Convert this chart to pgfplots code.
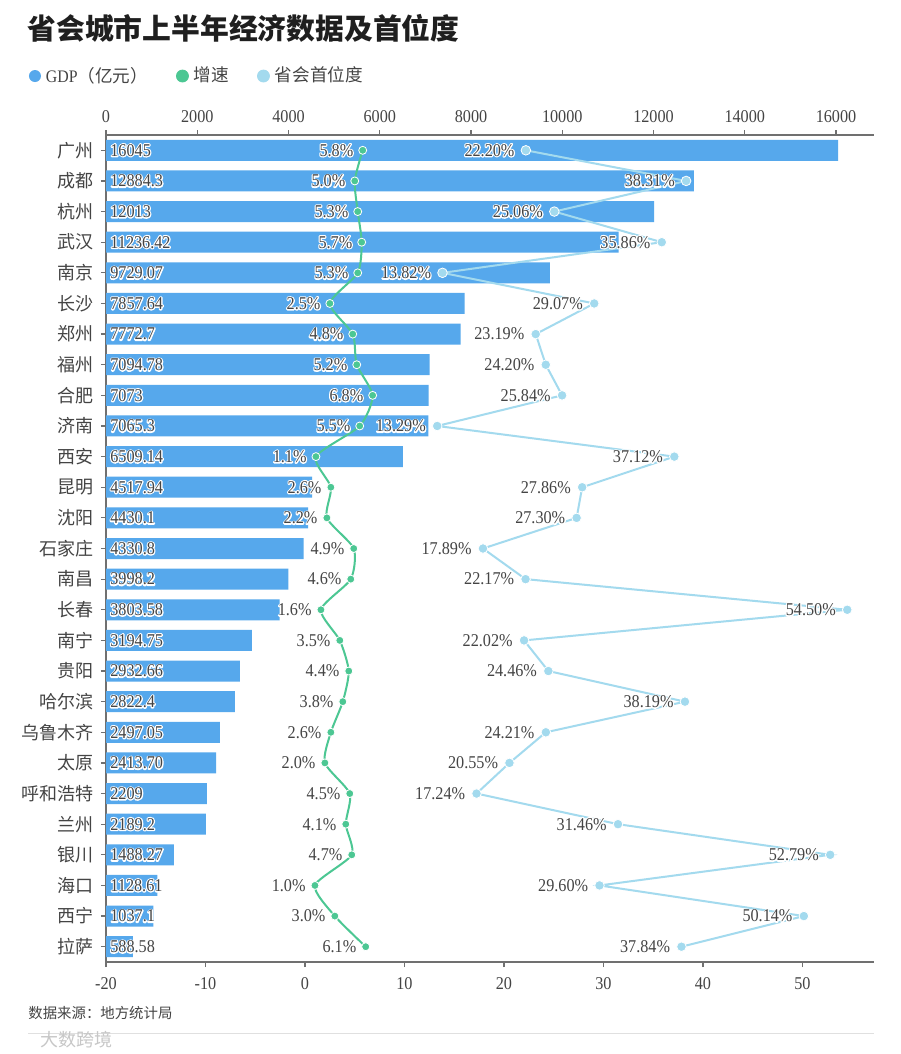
\documentclass[border=0pt]{standalone}
\usepackage{pgfplots}
\pgfplotsset{compat=1.18}
\usepackage{pgfplotstable}
\usepackage{fontspec}
\setmainfont{Liberation Serif}[FakeStretch=0.9]
\newfontfamily\cjk{Noto Sans CJK SC}
\definecolor{barblue}{HTML}{56A8EC}
\definecolor{grn}{HTML}{4CC793}
\definecolor{lblue}{HTML}{A3DAEE}
\definecolor{txt}{HTML}{444444}
\definecolor{axgray}{HTML}{707070}

\pgfplotstableread{
idx gdp growth prim
26 16045 5.8 22.20
25 12884.3 5.0 38.31
24 12013 5.3 25.06
23 11236.42 5.7 35.86
22 9729.07 5.3 13.82
21 7857.64 2.5 29.07
20 7772.7 4.8 23.19
19 7094.78 5.2 24.20
18 7073 6.8 25.84
17 7065.3 5.5 13.29
16 6509.14 1.1 37.12
15 4517.94 2.6 27.86
14 4430.1 2.2 27.30
13 4330.8 4.9 17.89
12 3998.2 4.6 22.17
11 3803.58 1.6 54.50
10 3194.75 3.5 22.02
9 2932.66 4.4 24.46
8 2822.4 3.8 38.19
7 2497.05 2.6 24.21
6 2413.70 2.0 20.55
5 2209 4.5 17.24
4 2189.2 4.1 31.46
3 1488.27 4.7 52.79
2 1128.61 1.0 29.60
1 1037.1 3.0 50.14
0 588.58 6.1 37.84
}\data

\newcommand\numf{\fontsize{9}{10}\selectfont}
% white halo behind label text
\newcommand\halo[1]{\leavevmode\rlap{\color{white}\special{pdf:literal 2 Tr 1 j 1.2 w 1 G}#1\special{pdf:literal 0 Tr}}#1}

\begin{document}
\begin{tikzpicture}
\path[fill=white] (0,0) rectangle (450pt,-527pt);
\node[anchor=west, inner sep=0pt, text=black!88] at (13.5pt,-14.3pt) {\cjk\bfseries\fontsize{14.4}{15}\selectfont 省会城市上半年经济数据及首位度};

\begin{axis}[
  at={(53pt,-481pt)}, anchor=south west,
  scale only axis, width=384pt, height=413.5pt,
  xmin=0, xmax=16833, ymin=-0.5, ymax=26.5,
  axis x line*=top, axis y line*=left,
  axis line style={-, axgray, line width=0.6pt},
  xtick={0,2000,...,16000},
  scaled x ticks=false,
  ytick={0,...,26},
  yticklabels={拉萨,西宁,海口,银川,兰州,呼和浩特,太原,乌鲁木齐,哈尔滨,贵阳,南宁,长春,南昌,石家庄,沈阳,昆明,西安,济南,合肥,福州,郑州,长沙,南京,武汉,杭州,成都,广州},
  tick align=outside, major tick length=2.5pt,
  tick style={axgray, line width=0.6pt},
  /pgf/number format/assume math mode=true,
  /pgf/number format/set thousands separator={},
  xticklabel style={font=\numf, text=txt},
  yticklabel style={font=\cjk\fontsize{9}{10}\selectfont, text=txt},
  legend columns=3,
  legend style={at={(axis description cs:-0.1003,1.0713)}, anchor=west,
    draw=none, fill=none, inner sep=0pt, outer sep=0pt,
    font=\fontsize{8.8}{10}\selectfont, text=txt,
    nodes={inner sep=0pt},
    /tikz/every odd column/.append style={column sep=2.5pt},
    /tikz/every even column/.append style={column sep=14pt}},
]
\addplot[xbar, bar width=10.5pt, bar shift=0pt, fill=barblue, draw=none,
  legend image code/.code={\fill[barblue] (3pt,0pt) circle (3pt);}]
  table[x=gdp, y=idx]{\data};
\addlegendentry{GDP{\cjk（亿元）}}
\addlegendimage{legend image code/.code={\fill[grn] (3pt,0pt) circle (3pt);}}
\addlegendentry{\cjk 增速}
\addlegendimage{legend image code/.code={\fill[lblue] (3pt,0pt) circle (3pt);}}
\addlegendentry{\cjk 省会首位度}
\addplot[draw=none, mark=none, forget plot, nodes near coords={\halo{\pgfplotspointmeta}}, point meta=explicit symbolic,
  nodes near coords style={anchor=west, inner sep=0pt, xshift=2pt, font=\numf, text=txt}]
  table[x expr=0, y=idx, meta=gdp]{\data};
\end{axis}

\begin{axis}[
  at={(53pt,-481pt)}, anchor=south west,
  scale only axis, width=384pt, height=413.5pt,
  xmin=-20, xmax=57.19, ymin=-0.5, ymax=26.5,
  axis x line*=bottom, axis y line=none,
  axis line style={-, axgray, line width=0.6pt},
  xtick={-20,-10,...,50},
  tick align=outside, major tick length=2.5pt,
  tick style={axgray, line width=0.6pt},
  /pgf/number format/assume math mode=true,
  xticklabel style={font=\numf, text=txt, yshift=-1.5pt},
  clip=false,
]
\addplot[grn, line width=1pt, smooth, tension=0.4, mark=*, mark size=2pt,
  mark options={fill=grn, draw=white, line width=0.4pt},
  nodes near coords={\halo{\pgfplotspointmeta\%}}, point meta=explicit symbolic,
  nodes near coords style={anchor=east, inner sep=0pt, xshift=-4.5pt, font=\numf, text=txt}]
  table[x=growth, y=idx, meta=growth]{\data};
\addplot[lblue, line width=1pt, mark=*, mark size=2.4pt,
  mark options={fill=lblue, draw=white, line width=0.4pt},
  nodes near coords={\halo{\pgfplotspointmeta\%}}, point meta=explicit symbolic,
  nodes near coords style={anchor=east, inner sep=0pt, xshift=-5.5pt, font=\numf, text=txt}]
  table[x=prim, y=idx, meta=prim]{\data};
\end{axis}

\node[anchor=west, inner sep=0pt, text=txt] at (14pt,-506.5pt) {\cjk\fontsize{7.2}{8}\selectfont 数据来源：地方统计局};
\draw[black!12, line width=0.5pt] (14pt,-516.5pt) -- (437pt,-516.5pt);
\node[anchor=west, inner sep=0pt, text=black!22] at (20pt,-520pt) {\cjk\fontsize{9}{10}\selectfont 大数跨境};
\end{tikzpicture}
\end{document}
